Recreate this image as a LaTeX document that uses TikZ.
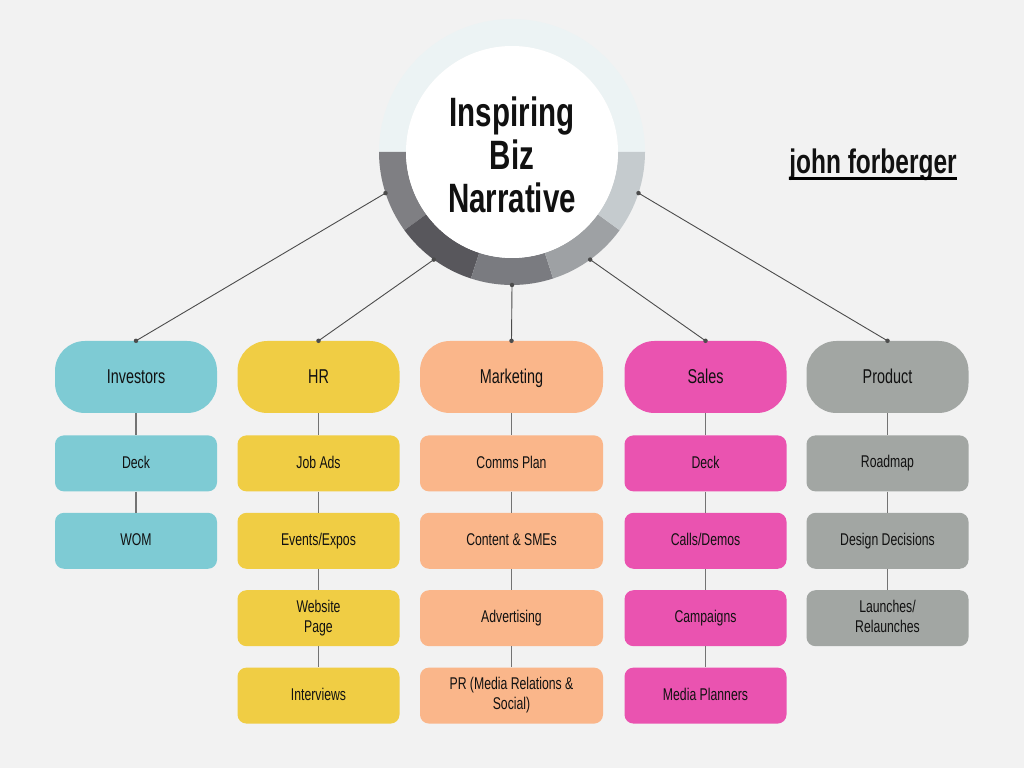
\documentclass[tikz,border=0pt]{standalone}
\usepackage{fontspec}
\setmainfont{Liberation Sans}[FakeStretch=0.72]
\usetikzlibrary{positioning}
\definecolor{bgc}{HTML}{F2F2F2}
\definecolor{invc}{HTML}{7ECBD4}
\definecolor{hrc}{HTML}{F0CD44}
\definecolor{mktc}{HTML}{FAB68A}
\definecolor{salc}{HTML}{EA53B0}
\definecolor{proc}{HTML}{A2A6A3}
\definecolor{ringtop}{HTML}{ECF3F4}
\definecolor{ringa}{HTML}{7F7F83}
\definecolor{ringb}{HTML}{58575C}
\definecolor{ringc}{HTML}{7A7B80}
\definecolor{ringd}{HTML}{9EA1A4}
\definecolor{ringe}{HTML}{C5CBCE}
\definecolor{txt}{HTML}{111111}
\newcommand{\boxstrut}{\rule[-3pt]{0pt}{15pt}}

\begin{document}
\begin{tikzpicture}[x=1pt, y=1pt]
	\tikzstyle{headbox} = [rectangle, rounded corners=30pt, minimum height=72pt, minimum width=162pt, text=txt, text height=16pt, text depth=2pt, font=\fontsize{20}{22}\selectfont]
	\tikzstyle{itembox} = [rectangle, rounded corners=9pt, minimum height=56pt, minimum width=162pt, text=txt, align=center, execute at begin node=\boxstrut, font=\fontsize{17}{20}\selectfont]
	\tikzstyle{link} = [draw=black!55, line width=1.3pt]
	\tikzstyle{spoke} = [draw=black!70, line width=0.9pt]
	\tikzstyle{dot} = [circle, fill=black!70, inner sep=0pt, minimum size=4.5pt]
	\fill[bgc] (0,0) rectangle (1024,768);
	
	% centre ring
	\coordinate (C) at (512,616);
	\fill[ringtop] ([shift={(0:133pt)}]C) arc[start angle=0, end angle=180, radius=133pt]
	-- ([shift={(180:106pt)}]C) arc[start angle=180, end angle=0, radius=106pt] -- cycle;
	\foreach \col [count=\k from 0] in {ringa,ringb,ringc,ringd,ringe} {
		\pgfmathsetmacro{\aa}{180+36*\k}
		\pgfmathsetmacro{\ab}{216+36*\k}
		\fill[\col] ([shift={(\aa:133pt)}]C) arc[start angle=\aa, end angle=\ab, radius=133pt]
		-- ([shift={(\ab:106pt)}]C) arc[start angle=\ab, end angle=\aa, radius=106pt] -- cycle;
	}
	\node[circle, fill=white, minimum size=212pt, inner sep=0pt] (Hub) at (C) {};
	\node[align=center, text=txt, font=\bfseries\fontsize{41}{43}\selectfont] (Title) at (512,613) {Inspiring\\Biz\\Narrative};
	
	\node[text=txt, inner sep=0pt, font=\bfseries\fontsize{34}{36}\selectfont] (Name) at (873,603) {john forberger};
	\draw[line width=3pt] ([yshift=-5pt]Name.base west) -- ([yshift=-5pt]Name.base east);
	
	% heads
	\node[headbox, fill=invc] (Inv) at (136,391) {Investors};
	\node[headbox, fill=hrc] (HR) at (318.5,391) {HR};
	\node[headbox, fill=mktc, minimum width=183pt] (Mkt) at (511.5,391) {Marketing};
	\node[headbox, fill=salc] (Sal) at (705.5,391) {Sales};
	\node[headbox, fill=proc] (Pro) at (887.5,391) {Product};
	
	% investors
	\node[below=22pt of Inv, itembox, fill=invc] (Inv1) {Deck};
	\node[below=21pt of Inv1, itembox, fill=invc] (Inv2) {WOM};
	% hr
	\node[below=22pt of HR, itembox, fill=hrc] (HR1) {Job Ads};
	\node[below=21pt of HR1, itembox, fill=hrc] (HR2) {Events/Expos};
	\node[below=21pt of HR2, itembox, fill=hrc] (HR3) {Website\\Page};
	\node[below=21pt of HR3, itembox, fill=hrc] (HR4) {Interviews};
	% marketing
	\node[below=22pt of Mkt, itembox, fill=mktc, minimum width=183pt] (Mkt1) {Comms Plan};
	\node[below=21pt of Mkt1, itembox, fill=mktc, minimum width=183pt] (Mkt2) {Content \& SMEs};
	\node[below=21pt of Mkt2, itembox, fill=mktc, minimum width=183pt] (Mkt3) {Advertising};
	\node[below=21pt of Mkt3, itembox, fill=mktc, minimum width=183pt] (Mkt4) {PR (Media Relations \&\\Social)};
	% sales
	\node[below=22pt of Sal, itembox, fill=salc] (Sal1) {Deck};
	\node[below=21pt of Sal1, itembox, fill=salc] (Sal2) {Calls/Demos};
	\node[below=21pt of Sal2, itembox, fill=salc] (Sal3) {Campaigns};
	\node[below=21pt of Sal3, itembox, fill=salc] (Sal4) {Media Planners};
	% product
	\node[below=22pt of Pro, itembox, fill=proc] (Pro1) {Roadmap};
	\node[below=21pt of Pro1, itembox, fill=proc] (Pro2) {Design Decisions};
	\node[below=21pt of Pro2, itembox, fill=proc] (Pro3) {Launches/\\Relaunches};
	
	% spokes from the ring
	\foreach \ang/\dest in {198/Inv, 234/HR, 270/Mkt, 306/Sal, 342/Pro} {
		\coordinate (S\dest) at ([shift={(\ang:133pt)}]C);
		\draw[spoke] (S\dest) -- (\dest.north);
		\node[dot] at (S\dest) {};
		\node[dot] at (\dest.north) {};
	}
	
	% column links
	\draw[link] (Inv) -- (Inv1);
	\draw[link] (Inv1) -- (Inv2);
	\draw[link] (HR) -- (HR1);
	\draw[link] (HR1) -- (HR2);
	\draw[link] (HR2) -- (HR3);
	\draw[link] (HR3) -- (HR4);
	\draw[link] (Mkt) -- (Mkt1);
	\draw[link] (Mkt1) -- (Mkt2);
	\draw[link] (Mkt2) -- (Mkt3);
	\draw[link] (Mkt3) -- (Mkt4);
	\draw[link] (Sal) -- (Sal1);
	\draw[link] (Sal1) -- (Sal2);
	\draw[link] (Sal2) -- (Sal3);
	\draw[link] (Sal3) -- (Sal4);
	\draw[link] (Pro) -- (Pro1);
	\draw[link] (Pro1) -- (Pro2);
	\draw[link] (Pro2) -- (Pro3);
\end{tikzpicture}
\end{document}
